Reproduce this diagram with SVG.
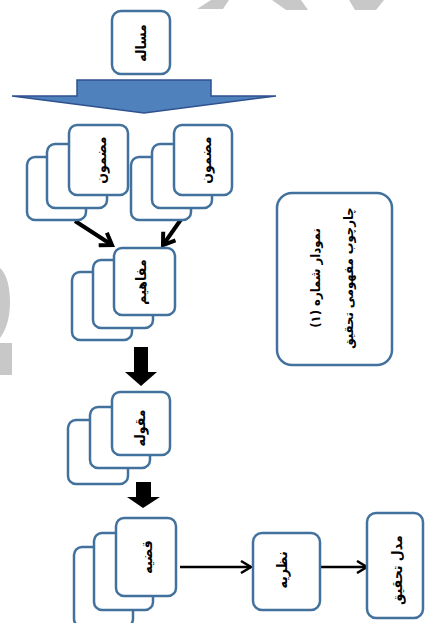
<svg xmlns="http://www.w3.org/2000/svg" width="428" height="623" viewBox="0 0 428 623">
<style>
.card{fill:#fff;stroke:#41719C;stroke-width:2.5}
.lbl{font-family:"DejaVu Sans Condensed","DejaVu Sans",sans-serif;font-size:14px;font-weight:bold;fill:#000;text-anchor:middle;dominant-baseline:central}
.ttl{font-family:"DejaVu Sans Condensed","DejaVu Sans",sans-serif;font-size:13px;font-weight:bold;fill:#000;text-anchor:middle;dominant-baseline:central}
.wm{fill:#c8c8c8}
</style>
<defs>
<marker id="headL" markerWidth="18" markerHeight="18" refX="14" refY="9" orient="auto" markerUnits="userSpaceOnUse">
<path d="M3,1.5 L14,9 L3,16.5" fill="none" stroke="#000" stroke-width="4"/>
</marker>
<marker id="headS" markerWidth="14" markerHeight="14" refX="12" refY="7" orient="auto" markerUnits="userSpaceOnUse">
<path d="M2,1 L12,7 L2,13" fill="none" stroke="#000" stroke-width="2.5"/>
</marker>
</defs>
<rect width="428" height="623" fill="#fff"/>
<g id="watermark">
<polygon class="wm" points="197,9 211,0 229,0 223,9"/>
<polygon class="wm" points="272,0 301,0 308,10 286,10"/>
<polygon class="wm" points="349,0 384,0 376,10 355,10"/>
<path class="wm" d="M0,268 C7,274 10,288 10,302 C10,318 6,330 0,338 Z"/>
<path class="wm" d="M0,343 L12,343 L12,375 L0,375 Z"/>
</g>
<g id="connectors">
<polygon points="77,80 211,80 211,96 276,96 144,113 12,96 77,96" fill="#4F81BD" stroke="#2F528F" stroke-width="1.5"/>
<line x1="75" y1="221" x2="112" y2="245" stroke="#000" stroke-width="4" marker-end="url(#headL)"/>
<line x1="182" y1="218" x2="163" y2="245" stroke="#000" stroke-width="4" marker-end="url(#headL)"/>
<polygon points="134,347 148,347 148,372 157,372 141,386 125,372 134,372" fill="#000"/>
<polygon points="136,482 151,482 151,497 160,497 143,508 127,497 136,497" fill="#000"/>
<line x1="180" y1="567" x2="251" y2="567" stroke="#000" stroke-width="2.5" marker-end="url(#headS)"/>
<line x1="320" y1="567" x2="367" y2="567" stroke="#000" stroke-width="2.5" marker-end="url(#headS)"/>
</g>
<g id="masale">
<rect class="card" x="112" y="11" width="58" height="63" rx="9"/>
<text class="lbl" transform="translate(141,43) rotate(-90)">مساله</text>
</g>
<g id="mazmun-left">
<rect class="card" x="27" y="157" width="59" height="63" rx="8"/>
<rect class="card" x="47" y="144" width="60" height="64" rx="8"/>
<rect class="card" x="69" y="125" width="59" height="70" rx="8"/>
<text class="lbl" transform="translate(101,160) rotate(-90)">مضمون</text>
</g>
<g id="mazmun-right">
<rect class="card" x="131" y="157" width="60" height="63" rx="8"/>
<rect class="card" x="152" y="144" width="60" height="64" rx="8"/>
<rect class="card" x="174" y="125" width="58" height="70" rx="8"/>
<text class="lbl" transform="translate(206,160) rotate(-90)">مضمون</text>
</g>
<g id="mafahim">
<rect class="card" x="72" y="272" width="60" height="68" rx="8"/>
<rect class="card" x="93" y="260" width="60" height="68" rx="8"/>
<rect class="card" x="114" y="248" width="61" height="67" rx="8"/>
<text class="lbl" transform="translate(141,282) rotate(-90)">مفاهیم</text>
</g>
<g id="maqule">
<rect class="card" x="68" y="420" width="60" height="64" rx="8"/>
<rect class="card" x="90" y="407" width="60" height="61" rx="8"/>
<rect class="card" x="112" y="392" width="58" height="63" rx="8"/>
<text class="lbl" transform="translate(140,428) rotate(-90)">مقوله</text>
</g>
<g id="qazie">
<rect class="card" x="74" y="547" width="59" height="80" rx="8"/>
<rect class="card" x="94" y="533" width="59" height="77" rx="8"/>
<rect class="card" x="116" y="518" width="60" height="78" rx="8"/>
<text class="lbl" transform="translate(147,557) rotate(-90)">قضیه</text>
</g>
<g id="nazarie">
<rect class="card" x="253" y="533" width="67" height="77" rx="9"/>
<text class="lbl" transform="translate(282,570) rotate(-90)">نظریه</text>
</g>
<g id="model">
<rect class="card" x="367" y="513" width="56" height="105" rx="9"/>
<text class="lbl" transform="translate(397,570) rotate(-90)">مدل تحقیق</text>
</g>
<g id="title">
<rect class="card" x="277" y="193" width="115" height="172" rx="15"/>
<g transform="translate(331,278) rotate(-90)">
<text class="ttl" x="0" y="-16">نمودار شماره (۱)</text>
<text class="ttl" x="0" y="17">چارچوب مفهومی تحقیق</text>
</g>
</g>
</svg>
